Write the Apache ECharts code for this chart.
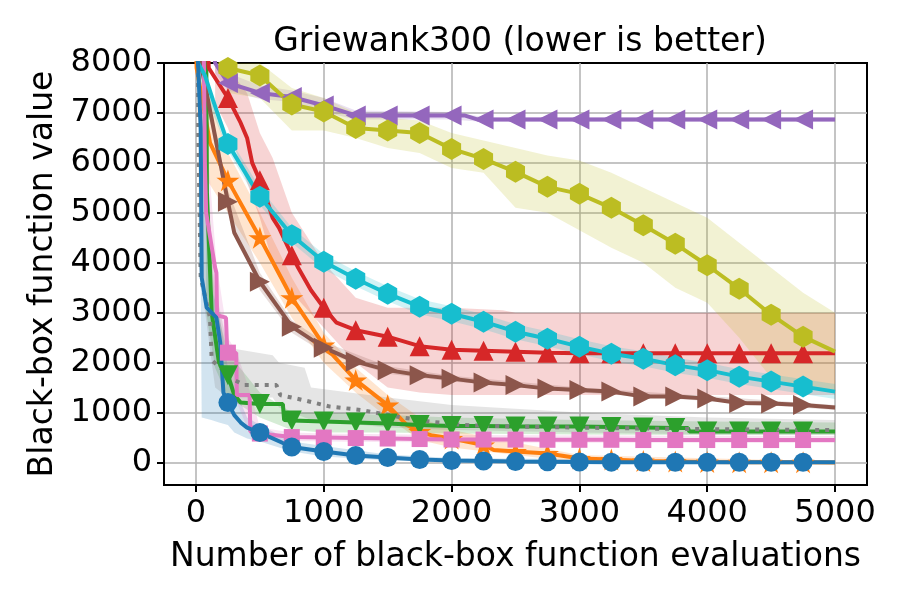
<!DOCTYPE html>
<html>
<head>
<meta charset="utf-8">
<title>Griewank300</title>
<script src="https://cdn.jsdelivr.net/npm/echarts@6.0.0/dist/echarts.min.js"></script>
<style>
  html, body { margin: 0; padding: 0; background: #fff; }
  #chart { width: 900px; height: 600px; }
</style>
</head>
<body>
<div id="chart"></div>
<script>
// markers are drawn every 250 evaluations
var markX = [250, 500, 750, 1000, 1250, 1500, 1750, 2000, 2250, 2500, 2750, 3000, 3250, 3500, 3750, 4000, 4250, 4500, 4750];

// median value at each marker position
var blueMarks   = [1200, 600, 310, 220, 140, 100, 60, 40, 30, 20, 15, 10, 8, 6, 5, 5, 5, 5, 5];
var orangeMarks = [5650, 4500, 3300, 2350, 1650, 1150, 620, 480, 350, 220, 180, 80, 60, 30, 20, 10, 5, 5, 5];
var greenMarks  = [1750, 1170, 840, 820, 800, 780, 750, 730, 730, 720, 720, 720, 710, 700, 690, 620, 620, 620, 620];
var redMarks    = [7300, 5650, 4150, 3100, 2650, 2520, 2330, 2260, 2240, 2220, 2200, 2190, 2190, 2190, 2190, 2190, 2190, 2190, 2190];
var purpleMarks = [7600, 7400, 7320, 7150, 6950, 6950, 6950, 6950, 6870, 6870, 6870, 6870, 6870, 6870, 6870, 6870, 6870, 6870, 6870];
var brownMarks  = [5220, 3620, 2720, 2300, 2020, 1850, 1750, 1680, 1600, 1550, 1480, 1450, 1420, 1320, 1320, 1280, 1190, 1180, 1150];
var pinkMarks   = [2200, 580, 510, 500, 490, 480, 470, 460, 460, 460, 455, 455, 455, 450, 450, 450, 450, 450, 450];
var oliveMarks  = [7900, 7750, 7170, 7030, 6700, 6650, 6600, 6280, 6080, 5820, 5520, 5380, 5100, 4750, 4380, 3950, 3480, 2960, 2520];
var cyanMarks   = [6380, 5320, 4550, 4020, 3680, 3380, 3120, 2980, 2820, 2620, 2480, 2320, 2180, 2080, 1950, 1850, 1720, 1620, 1520];

// points between markers (no marker drawn)
var blueExtra   = [[0, 8600], [18, 7900], [37, 6700], [45, 3700], [84, 3100], [160, 2900], [190, 2400], [215, 1400], [300, 950], [350, 800], [400, 700], [5000, 5]];
var orangeExtra = [[0, 8600], [5, 7900], [110, 6400], [1650, 750], [1850, 540], [2330, 250], [2930, 110], [5000, 3]];
var greenExtra  = [[80, 8600], [86, 5400], [123, 3000], [180, 2000], [300, 1350], [350, 1200], [680, 1170], [690, 850], [3850, 690], [3860, 620], [5000, 620]];
var redExtra    = [[90, 8600], [100, 7900], [150, 7700], [300, 7050], [350, 6800], [400, 6500], [440, 6000], [550, 5300], [600, 4900], [650, 4700], [800, 3900], [900, 3450], [1100, 2800], [5000, 2190]];
var purpleExtra = [[130, 8600], [150, 8000], [2100, 6950], [2200, 6870], [5000, 6870]];
var brownExtra  = [[40, 8600], [45, 7900], [300, 4600], [5000, 1100]];
var pinkExtra   = [[60, 8600], [70, 6000], [80, 5000], [150, 3900], [160, 3800], [165, 2950], [235, 2900], [245, 2200], [315, 2200], [320, 1350], [420, 1350], [425, 620], [5000, 450]];
var oliveExtra  = [[170, 8600], [5000, 2220]];
var cyanExtra   = [[10, 8600], [16, 8000], [70, 7750], [134, 7250], [5000, 1420]];

// dotted grey run has no markers
var grayLine = [[15, 8600], [18, 6600], [37, 3700], [110, 2900], [123, 2050], [300, 1650], [380, 1550], [630, 1550], [660, 1350], [840, 1250], [1050, 1120], [1300, 1050], [1570, 920], [1830, 820], [2100, 750], [2500, 720], [3000, 700], [3500, 680], [4000, 670], [4500, 660], [5000, 650]];

// spread bands: [x, lower, upper]
var blueBand   = [[30, 6500, 8000], [45, 900, 7000], [120, 850, 3500], [180, 800, 3000], [250, 750, 1900], [300, 600, 1500], [400, 480, 900], [500, 420, 750], [750, 220, 420], [1000, 120, 330], [1500, 40, 160], [2000, 10, 90], [5000, 0, 20]];
var orangeBand = [[10, 7000, 8000], [100, 5600, 7400], [250, 5000, 6200], [500, 4000, 5000], [750, 2900, 3700], [1000, 2000, 2600], [1250, 1400, 1900], [1500, 900, 1350], [1750, 450, 900], [2000, 300, 650], [2500, 150, 400], [3000, 0, 150], [5000, 0, 20]];
var greenBand  = [[80, 3000, 5500], [150, 1900, 3200], [250, 1300, 2200], [500, 900, 1400], [750, 650, 1000], [1000, 600, 1000], [1500, 600, 950], [2000, 580, 900], [3000, 560, 850], [4000, 550, 820], [5000, 550, 800]];
var redBand    = [[150, 7200, 8000], [250, 6700, 7900], [400, 5600, 7400], [500, 4900, 6600], [600, 4000, 6100], [750, 3400, 5000], [1000, 2700, 4000], [1250, 2000, 3300], [1500, 1500, 3100], [1750, 1400, 3100], [2000, 1350, 3100], [2400, 1350, 3050], [2500, 1350, 3000], [5000, 1350, 3000]];
var purpleBand = [[150, 7800, 8000], [250, 7450, 7800], [500, 7280, 7550], [750, 7220, 7450], [1000, 7020, 7300], [1250, 6870, 7050], [2000, 6870, 7020], [2250, 6820, 6920], [5000, 6820, 6920]];
var brownBand  = [[45, 7700, 8000], [250, 5000, 5450], [500, 3450, 3800], [750, 2600, 2850], [1000, 2200, 2420], [1500, 1780, 1930], [2000, 1620, 1740], [3000, 1400, 1500], [4000, 1230, 1330], [5000, 1050, 1150]];
var pinkBand   = [[70, 4800, 7000], [160, 2800, 4000], [250, 1800, 2500], [320, 1200, 2200], [425, 550, 1400], [500, 480, 700], [750, 430, 600], [1000, 420, 580], [2000, 400, 550], [5000, 390, 530]];
var grayBand   = [[20, 4000, 7000], [150, 1500, 3500], [250, 1300, 2300], [600, 1300, 2150], [650, 1100, 2000], [850, 900, 1900], [900, 850, 1500], [1500, 700, 1300], [2000, 650, 1150], [3000, 600, 1000], [4000, 560, 900], [5000, 560, 850]];
var oliveBand  = [[250, 7400, 8000], [500, 7300, 8000], [750, 6650, 7500], [1000, 6650, 7300], [1250, 6500, 7000], [1500, 6300, 6900], [1750, 6200, 6850], [2000, 5900, 6600], [2250, 5800, 6450], [2500, 5100, 6300], [2750, 5000, 6150], [3000, 4650, 6050], [3250, 4300, 5800], [3500, 4000, 5500], [3750, 3500, 5200], [4000, 3200, 4900], [4250, 2500, 4400], [4500, 1700, 3900], [4750, 1500, 3400], [5000, 1400, 3000]];
var cyanBand   = [[20, 7700, 8000], [250, 6250, 6550], [500, 5150, 5500], [750, 4400, 4700], [1000, 3870, 4170], [1250, 3530, 3830], [1500, 3230, 3530], [1750, 2970, 3270], [2000, 2830, 3130], [2250, 2670, 2970], [2500, 2470, 2770], [2750, 2330, 2630], [3000, 2170, 2470], [3250, 2030, 2330], [3500, 1930, 2230], [3750, 1800, 2100], [4000, 1700, 2000], [4250, 1570, 1870], [4500, 1470, 1770], [4750, 1370, 1670], [5000, 1270, 1570]];

var FONT = 'DejaVu Sans';

// marker shapes (matplotlib style)
var SYM = {
    circle: 'circle',
    square: 'rect',
    star: 'path://M0,-1 L0.225,-0.309 L0.951,-0.309 L0.363,0.118 L0.588,0.809 L0,0.382 L-0.588,0.809 L-0.363,0.118 L-0.951,-0.309 L-0.225,-0.309 Z',
    triUp: 'path://M0,-1 L1,1 L-1,1 Z',
    triDown: 'path://M-1,-1 L1,-1 L0,1 Z',
    triLeft: 'path://M-1,0 L1,-1 L1,1 Z',
    triRight: 'path://M1,0 L-1,-1 L-1,1 Z',
    hexagon: 'path://M0,-1 L0.866,-0.5 L0.866,0.5 L0,1 L-0.866,0.5 L-0.866,-0.5 Z'
};

function hexToRgba(hex, a) {
    var n = parseInt(hex.slice(1), 16);
    return 'rgba(' + (n >> 16) + ',' + ((n >> 8) & 255) + ',' + (n & 255) + ',' + a + ')';
}

// merge marker points with the plain points, sorted by x
function buildData(marks, extra) {
    var pts = markX.map(function (x, i) { return { value: [x, marks[i]] }; });
    extra.forEach(function (p) { pts.push({ value: p, symbol: 'none' }); });
    pts.sort(function (a, b) { return a.value[0] - b.value[0]; });
    return pts;
}

function lineSeries(name, color, data, symbol, size) {
    return {
        name: name,
        type: 'line',
        z: 3,
        data: data,
        symbol: symbol,
        symbolSize: size,
        symbolKeepAspect: true,
        showAllSymbol: true,
        clip: true,
        silent: true,
        lineStyle: { color: color, width: 4 },
        itemStyle: { color: color, borderWidth: 0 },
        emphasis: { disabled: true }
    };
}

function bandSeries(band, color) {
    return {
        type: 'custom',
        silent: true,
        clip: true,
        z: 1,
        data: [[band[0][0], band[0][1]]],
        renderItem: function (params, api) {
            var pts = [];
            band.forEach(function (r) { pts.push(api.coord([r[0], r[2]])); });
            band.slice().reverse().forEach(function (r) { pts.push(api.coord([r[0], r[1]])); });
            return {
                type: 'polygon',
                shape: { points: pts },
                style: { fill: hexToRgba(color, 0.2) }
            };
        }
    };
}

var C = {
    blue: '#1f77b4', orange: '#ff7f0e', green: '#2ca02c', red: '#d62728', purple: '#9467bd',
    brown: '#8c564b', pink: '#e377c2', gray: '#7f7f7f', olive: '#bcbd22', cyan: '#17becf'
};

var series = [
    bandSeries(blueBand, C.blue),
    bandSeries(orangeBand, C.orange),
    bandSeries(greenBand, C.green),
    bandSeries(redBand, C.red),
    bandSeries(purpleBand, C.purple),
    bandSeries(brownBand, C.brown),
    bandSeries(pinkBand, C.pink),
    bandSeries(grayBand, C.gray),
    bandSeries(oliveBand, C.olive),
    bandSeries(cyanBand, C.cyan),
    lineSeries('orange', C.orange, buildData(orangeMarks, orangeExtra), SYM.star, 23),
    lineSeries('green', C.green, buildData(greenMarks, greenExtra), SYM.triDown, 20),
    lineSeries('red', C.red, buildData(redMarks, redExtra), SYM.triUp, 20),
    lineSeries('purple', C.purple, buildData(purpleMarks, purpleExtra), SYM.triLeft, 20),
    lineSeries('brown', C.brown, buildData(brownMarks, brownExtra), SYM.triRight, 20),
    lineSeries('pink', C.pink, buildData(pinkMarks, pinkExtra), SYM.square, 16),
    {
        name: 'gray',
        type: 'line',
        z: 3,
        data: grayLine,
        symbol: 'none',
        clip: true,
        silent: true,
        lineStyle: { color: C.gray, width: 4, type: [4, 6] },
        emphasis: { disabled: true }
    },
    lineSeries('olive', C.olive, buildData(oliveMarks, oliveExtra), SYM.hexagon, 22),
    lineSeries('cyan', C.cyan, buildData(cyanMarks, cyanExtra), SYM.hexagon, 22),
    lineSeries('blue', C.blue, buildData(blueMarks, blueExtra), SYM.circle, 19)
];

function plain(v) { return String(v); }

var chart = echarts.init(document.getElementById('chart'), null, { renderer: 'canvas' });
chart.setOption({
    animation: false,
    backgroundColor: '#ffffff',
    title: {
        text: 'Griewank300 (lower is better)',
        left: 515,
        top: 21,
        textAlign: 'center',
        textStyle: { fontFamily: FONT, fontSize: 33, fontWeight: 'normal', color: '#000' }
    },
    grid: {
        left: 164, right: 33, top: 63, bottom: 115,
        show: true, borderColor: '#000', borderWidth: 2, backgroundColor: 'transparent'
    },
    xAxis: {
        type: 'value',
        min: -250, max: 5250,
        minInterval: 1000, maxInterval: 1000,
        name: 'Number of black-box function evaluations',
        nameLocation: 'middle',
        nameGap: 56,
        nameTextStyle: { fontFamily: FONT, fontSize: 33, color: '#000' },
        axisLine: { show: true, onZero: false, lineStyle: { color: '#000', width: 2 } },
        axisTick: { show: true, inside: false, length: 7, lineStyle: { color: '#000', width: 2 } },
        axisLabel: { fontFamily: FONT, fontSize: 32, color: '#000', margin: 13, showMinLabel: false, showMaxLabel: false, formatter: plain },
        splitLine: { show: true, showMinLine: false, showMaxLine: false, lineStyle: { color: '#b0b0b0', width: 1.5 } }
    },
    yAxis: {
        type: 'value',
        min: -450, max: 8000,
        minInterval: 1000, maxInterval: 1000,
        name: 'Black-box function value',
        nameLocation: 'middle',
        nameGap: 100,
        nameTextStyle: { fontFamily: FONT, fontSize: 33, color: '#000' },
        axisLine: { show: true, onZero: false, lineStyle: { color: '#000', width: 2 } },
        axisTick: { show: true, inside: false, length: 7, lineStyle: { color: '#000', width: 2 } },
        axisLabel: { fontFamily: FONT, fontSize: 32, color: '#000', margin: 12, showMinLabel: false, formatter: plain },
        splitLine: { show: true, showMinLine: false, showMaxLine: false, lineStyle: { color: '#b0b0b0', width: 1.5 } }
    },
    series: series
});
</script>
</body>
</html>
